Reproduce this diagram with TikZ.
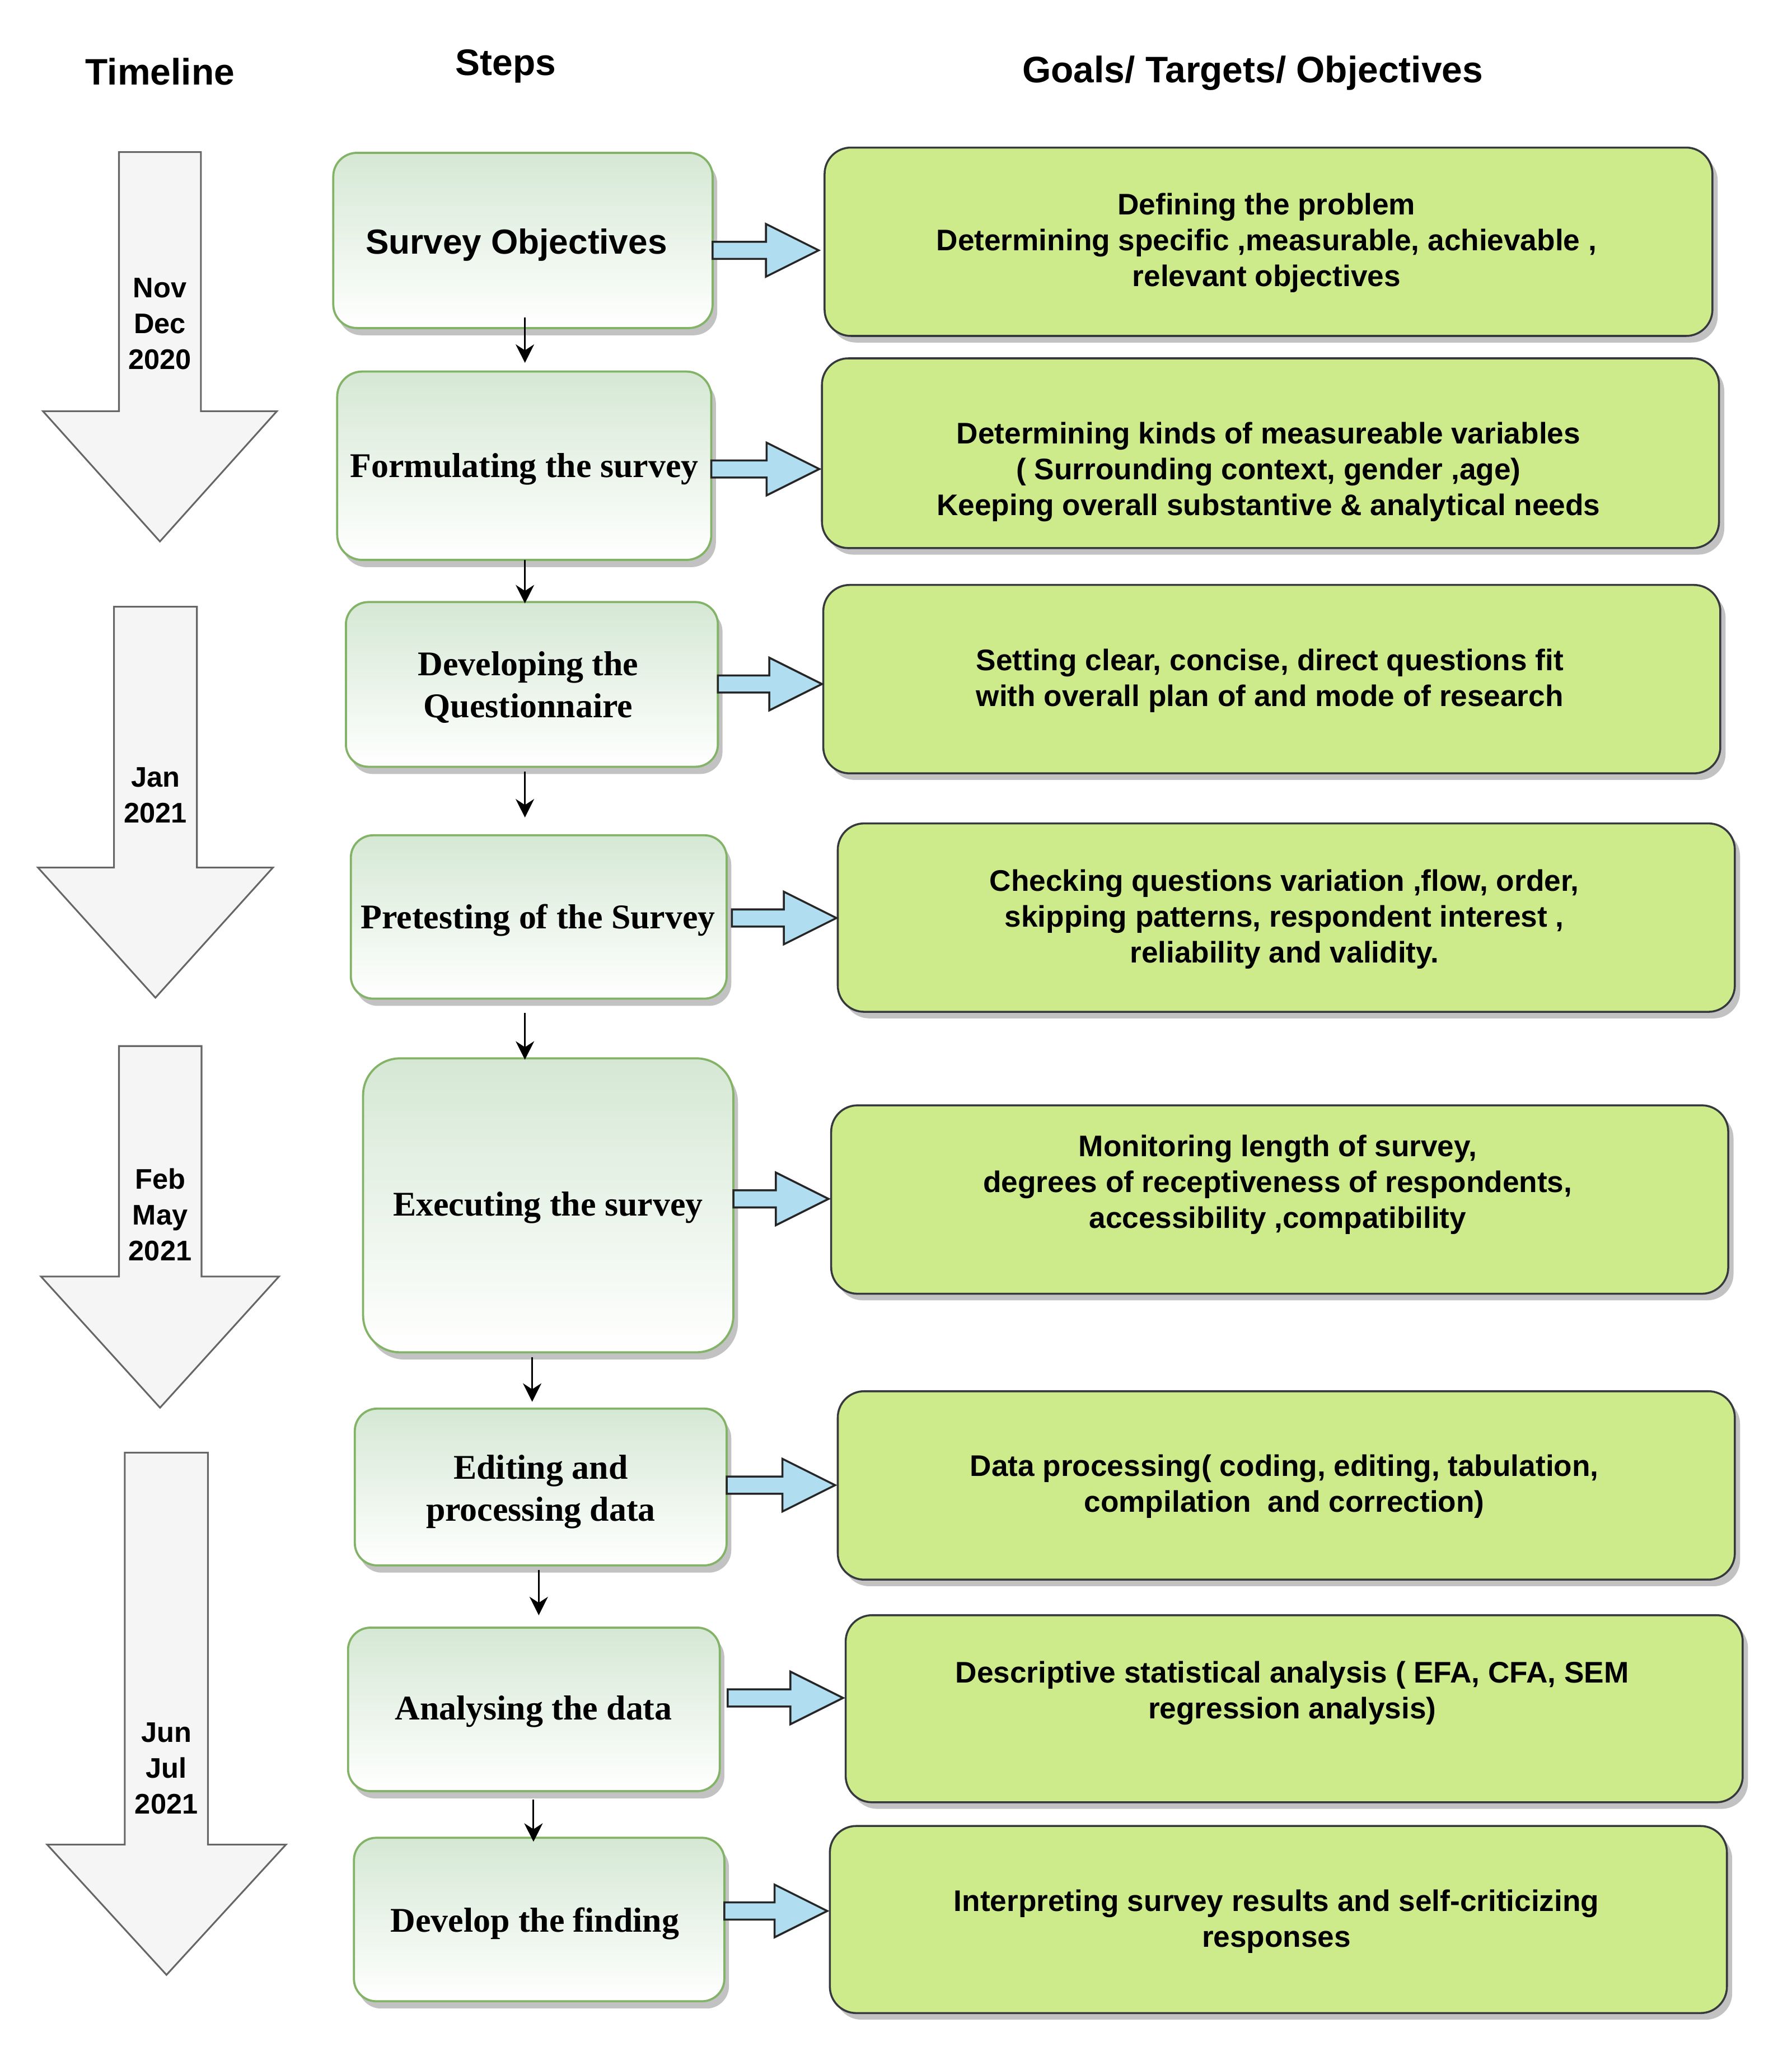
\documentclass[tikz,border=0pt]{standalone}
\usepackage{fontspec}
\setmainfont{Liberation Serif}
\setsansfont{Liberation Sans}
\usetikzlibrary{arrows.meta,calc}
\definecolor{stepfill}{HTML}{D5E8D4}
\definecolor{stepline}{HTML}{82B366}
\definecolor{goalfill}{HTML}{CDEB8B}
\definecolor{goalline}{HTML}{36393D}
\definecolor{bluefill}{HTML}{B1DDF0}
\definecolor{tlfill}{HTML}{F5F5F5}
\definecolor{tlline}{HTML}{666666}
\definecolor{shadowc}{HTML}{C2C2C2}
\newcommand\mystep[6]{%
  \node[shadowbox, minimum width=#4pt, minimum height=#5pt, rounded corners=#6pt] (#1sh) at (#2+3.5,#3+5.5) {};
  \node[stepbox, minimum width=#4pt, minimum height=#5pt, rounded corners=#6pt] (#1) at (#2,#3) {};}
\newcommand\mygoal[5]{%
  \node[shadowbox, minimum width=#4pt, minimum height=#5pt, rounded corners=20pt] (#1sh) at (#2+4,#3+5) {};
  \node[goalbox, minimum width=#4pt, minimum height=#5pt, rounded corners=20pt] (#1) at (#2,#3) {};}
% #1 from node, #2 to node, #3 row coordinate, #4 gap before target, #5 gap after source
\newcommand\bluearrow[5]{%
  \draw[bluearr] let \p1=(#1.east |- #3), \p2=(#2.west |- #3) in
    (\x1+#5pt,\y1+6.5pt) -- (\x2-#4pt-40pt,\y1+6.5pt) -- (\x2-#4pt-40pt,\y1+20pt) -- (\x2-#4pt,\y1)
    -- (\x2-#4pt-40pt,\y1-20pt) -- (\x2-#4pt-40pt,\y1-6.5pt) -- (\x1+#5pt,\y1-6.5pt) -- cycle;}
\begin{document}
\begin{tikzpicture}[x=1pt,y=-1pt,
  shadowbox/.style={rectangle, fill=shadowc, draw=none, inner sep=0pt, outer sep=0pt},
  stepbox/.style={rectangle, draw=stepline, line width=1.6pt, top color=stepfill, bottom color=white, inner sep=0pt, outer sep=0pt},
  goalbox/.style={rectangle, draw=goalline, line width=1.5pt, fill=goalfill, inner sep=0pt, outer sep=0pt},
  steptext/.style={font=\fontsize{26.3}{31.7}\selectfont\rmfamily\bfseries, align=center, inner sep=0pt},
  goaltext/.style={font=\fontsize{22.6}{27.2}\selectfont\sffamily\bfseries, align=center, inner sep=0pt},
  tltext/.style={font=\fontsize{21.5}{27.2}\selectfont\sffamily\bfseries, align=center, inner sep=0pt},
  headtext/.style={font=\fontsize{28}{33}\selectfont\sffamily\bfseries, inner sep=0pt, anchor=base},
  tlarrow/.style={draw=tlline, fill=tlfill, line width=1.3pt, line join=miter},
  bluearr/.style={draw=black!85, fill=bluefill, line width=1.5pt, line join=miter},
  thinarr/.style={draw=black, line width=1.3pt, -{Stealth[length=14pt,width=14pt,inset=4.5pt]}},
]
\fill[white] (0,0) rectangle (1360,1560.6);
\useasboundingbox (0,0) rectangle (1360,1560.6);

% headers
\node[headtext] (hTimeline) at (121.5,64.5) {Timeline};
\node[headtext] (hSteps) at (384,57) {Steps};
\node[headtext] (hGoals) at (951,62.6) {Goals/ Targets/ Objectives};

% timeline arrows
\draw[tlarrow] (90.3,115.4) -- (152.5,115.4) -- (152.5,312.1) -- (210.2,312.1) -- (121.4,411) -- (32.6,312.1) -- (90.3,312.1) -- cycle;
\draw[tlarrow] (86.5,460.5) -- (149.5,460.5) -- (149.5,658.5) -- (207.2,658.5) -- (118,757.3) -- (28.8,658.5) -- (86.5,658.5) -- cycle;
\draw[tlarrow] (90.3,794) -- (153,794) -- (153,968.9) -- (211.8,968.9) -- (121.5,1068.5) -- (31.1,968.9) -- (90.3,968.9) -- cycle;
\draw[tlarrow] (94.7,1102.6) -- (157.8,1102.6) -- (157.8,1400.1) -- (217.1,1400.1) -- (126.4,1499) -- (35.8,1400.1) -- (94.7,1400.1) -- cycle;
\node[tltext] (t1) at (121.4,246) {Nov\\Dec\\2020};
\node[tltext] (t2) at (118,603.5) {Jan\\2021};
\node[tltext] (t3) at (121.6,922.1) {Feb\\May\\2021};
\node[tltext] (t4) at (126.3,1342.1) {Jun\\Jul\\2021};

% step boxes
\mystep{s1}{397}{182.5}{288}{133}{18}
\mystep{s2}{398}{353.5}{284}{143}{19}
\mystep{s3}{403.8}{519.5}{282.4}{125}{17}
\mystep{s4}{409}{696}{285.3}{124}{17}
\mystep{s5}{416.2}{914.9}{281.1}{223.1}{28}
\mystep{s6}{410.5}{1128.7}{282.3}{119}{17}
\mystep{s7}{405.3}{1297.5}{282.2}{124.1}{17}
\mystep{s8}{409.3}{1457}{281.2}{124.1}{17}

% goal boxes
\mygoal{g1}{963}{183.5}{674}{143}
\mygoal{g2}{964.5}{344}{681}{144}
\mygoal{g3}{965.5}{515.5}{681}{143}
\mygoal{g4}{976.5}{696.5}{681}{143}
\mygoal{g5}{971.5}{910.5}{681}{143}
\mygoal{g6}{976.5}{1127.5}{681}{143}
\mygoal{g7}{982.5}{1297}{681}{142}
\mygoal{g8}{970.5}{1457}{681}{142}

% arrow rows
\coordinate (ay1) at (0,190);
\coordinate (ay2) at (0,356);
\coordinate (ay3) at (0,519.2);
\coordinate (ay4) at (0,696.8);
\coordinate (ay5) at (0,910);
\coordinate (ay6) at (0,1127.3);
\coordinate (ay7) at (0,1288.8);
\coordinate (ay8) at (0,1450.5);
\bluearrow{s1}{g1}{ay1}{4.5}{0}
\bluearrow{s2}{g2}{ay2}{2}{0}
\bluearrow{s3}{g3}{ay3}{1}{0}
\bluearrow{s4}{g4}{ay4}{1}{4}
\bluearrow{s5}{g5}{ay5}{2}{0}
\bluearrow{s6}{g6}{ay6}{2}{0}
\bluearrow{s7}{g7}{ay7}{2}{6}
\bluearrow{s8}{g8}{ay8}{2}{0}

% thin arrows between steps
\coordinate (ax1) at (398.5,0);
\coordinate (ax5) at (404,0);
\coordinate (ax6) at (409,0);
\coordinate (ax7) at (405,0);
\draw[thinarr, shorten <=-8.2pt, shorten >=6.6pt] (s1.south -| ax1) -- (s2.north -| ax1);
\draw[thinarr, shorten >=-1pt] (s2.south -| ax1) -- (s3.north -| ax1);
\draw[thinarr, shorten <=3.6pt, shorten >=13.5pt] (s3.south -| ax1) -- (s4.north -| ax1);
\draw[thinarr, shorten <=11pt, shorten >=-1pt] (s4.south -| ax1) -- (s5.north -| ax1);
\draw[thinarr, shorten <=3.6pt, shorten >=5.2pt] (s5.south -| ax5) -- (s6.north -| ax5);
\draw[thinarr, shorten <=3.4pt, shorten >=9.4pt] (s6.south -| ax6) -- (s7.north -| ax6);
\draw[thinarr, shorten <=6.2pt, shorten >=-3pt] (s7.south -| ax7) -- (s8.north -| ax7);

% step texts
\node[steptext, font=\fontsize{26.4}{31.7}\selectfont\sffamily\bfseries, anchor=base] (s1t) at (392,192.7) {Survey Objectives};
\node[steptext, anchor=base] (s2t) at (398,362.5) {Formulating the survey};
\node[steptext] (s3t) at (401,521.6) {Developing the\\Questionnaire};
\node[steptext, anchor=base] (s4t) at (408.5,705) {Pretesting of the Survey};
\node[steptext, anchor=base] (s5t) at (416,922.8) {Executing the survey};
\node[steptext] (s6t) at (410.5,1132.4) {Editing and\\processing data};
\node[steptext, anchor=base] (s7t) at (405,1305.4) {Analysing the data};
\node[steptext, anchor=base] (s8t) at (406,1466.3) {Develop the finding};

% goal texts
\node[goaltext] (g1t) at (961.5,184.5) {Defining the problem\\Determining specific ,measurable, achievable ,\\relevant objectives};
\node[goaltext] (g2t) at (963,358.3) {Determining kinds of measureable variables\\( Surrounding context, gender ,age)\\Keeping overall substantive \& analytical needs};
\node[goaltext] (g3t) at (964,516.6) {Setting clear, concise, direct questions fit\\with overall plan of and mode of research};
\node[goaltext] (g4t) at (975,697.6) {Checking questions variation ,flow, order,\\skipping patterns, respondent interest ,\\reliability and validity.};
\node[goaltext] (g5t) at (970,899.1) {Monitoring length of survey,\\degrees of receptiveness of respondents,\\accessibility ,compatibility};
\node[goaltext] (g6t) at (975,1128.4) {Data processing( coding, editing, tabulation,\\compilation~ and correction)};
\node[goaltext] (g7t) at (981,1285.2) {Descriptive statistical analysis ( EFA, CFA, SEM\\regression analysis)};
\node[goaltext] (g8t) at (969,1458.5) {Interpreting survey results and self-criticizing\\responses};
\end{tikzpicture}
\end{document}
